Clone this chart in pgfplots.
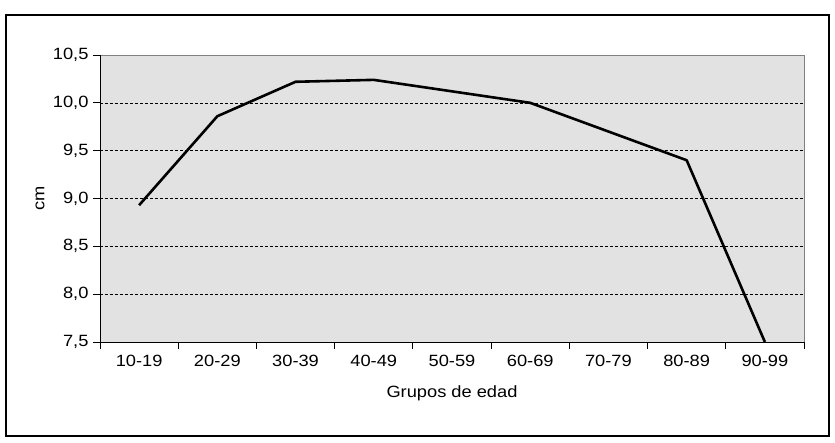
\documentclass[border=0pt]{standalone}
\usepackage{pgfplots}
\pgfplotsset{compat=1.18}
\usepackage{fontspec}
\setmainfont{Liberation Sans}[FakeStretch=1.12]
\definecolor{bgfill}{RGB}{226,226,226}
\begin{document}
\begin{tikzpicture}[x=1pt,y=1pt]
\useasboundingbox (-100,-100) rectangle (735,342);
\draw[line width=1.2pt,black] (-94,-94) rectangle (729,327);
\begin{axis}[
  at={(0,0)}, anchor=south west,
  scale only axis, width=704pt, height=287pt,
  xmin=0.5, xmax=9.5, ymin=7.5, ymax=10.5,
  axis lines*=left,
  axis line style={line width=0.9pt,black},
  axis background/.style={fill=bgfill,draw=gray,line width=0.9pt},
  xtick={1,...,9},
  xticklabels={10-19,20-29,30-39,40-49,50-59,60-69,70-79,80-89,90-99},
  major x tick style={draw=none},
  minor xtick={0.5,1.5,...,9.5},
  minor x tick style={black,line width=0.8pt},
  minor tick length=7pt,
  ytick={7.5,8,8.5,9,9.5,10,10.5},
  y tick style={black,line width=0.8pt},
  major tick length=7pt,
  tick align=outside,
  extra y ticks={8,8.5,9,9.5,10},
  extra y tick labels={},
  extra y tick style={ymajorgrids=true, major tick length=0pt},
  major grid style={black,dash pattern=on 3pt off 2pt,line width=0.6pt},
  /pgf/number format/assume math mode=true,
  /pgf/number format/.cd, fixed, fixed zerofill, precision=1, use comma,
  /pgfplots/.cd,
  tick label style={font=\fontsize{16.3}{19}\selectfont},
  yticklabel style={xshift=-1pt},
  xticklabel style={yshift=-3pt},
  label style={font=\fontsize{16.3}{19}\selectfont},
  xlabel={Grupos de edad},
  ylabel={cm},
  xlabel style={at={(axis description cs:0.5,0)},anchor=center,yshift=-51pt},
  ylabel style={at={(axis description cs:-0.0852,0.5)},anchor=center},
  clip=false,
]
\addplot[black,line width=2.6pt,line join=round] coordinates {
(1,8.93) (2,9.86) (3,10.22) (4,10.24) (5,10.12) (6,10.00) (7,9.70) (8,9.40) (9,7.50)
};
\end{axis}
\end{tikzpicture}
\end{document}
